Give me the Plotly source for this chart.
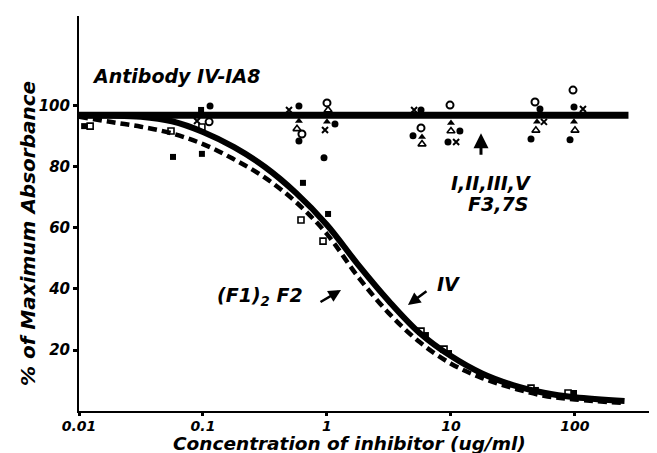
import plotly.graph_objects as go

# ---------------- data ----------------
x_tick_vals = [0.01, 0.1, 1, 10, 100]
x_tick_text = ["0.01", "0.1", "1", "10", "100"]
y_tick_vals = [20, 40, 60, 80, 100]
y_tick_text = ["20", "40", "60", "80", "100"]

# Horizontal line for I, II, III, V, F3, 7S (no inhibition)
flat_x = [0.01, 270]
flat_y = [97, 97]

# Curve for IV (solid)
iv_x = [0.01, 0.0316, 0.0562, 0.1, 0.178, 0.316, 0.562, 1.0, 1.78, 3.16, 5.62, 10, 17.8, 31.6, 56.2, 100, 251]
iv_y = [97, 96.5, 95, 91.5, 86.5, 80, 71.5, 61, 48, 36, 25.5, 18, 12.3, 8.5, 6, 4.5, 3.3]

# Curve for (F1)2 F2 (dashed)
f_x = [0.01, 0.0178, 0.0316, 0.0562, 0.1, 0.178, 0.316, 0.562, 1.0, 1.78, 3.16, 5.62, 10, 17.8, 31.6, 56.2, 100, 251]
f_y = [96.5, 94.8, 93.2, 91, 87.5, 82.5, 76.5, 68.5, 58, 44, 32, 22.5, 15.5, 10.8, 7.5, 5, 3.8, 2.6]

# Scatter points
fc_x = [0.114, 0.594, 0.594, 1.16, 0.946, 5.73, 4.94, 11.8, 9.46, 52.2, 44.2, 98.2, 91.2]
fc_y = [100, 100, 88.5, 94.1, 83, 98.7, 90.2, 91.8, 88.2, 99, 89.2, 99.7, 88.9]

oc_x = [0.112, 0.628, 1.0, 5.73, 9.82, 47.6, 96.4]
oc_y = [94.8, 90.8, 101, 92.8, 100.3, 101.3, 105.2]

ft_x = [0.594, 1.0, 5.84, 10, 49.4, 98.2]
ft_y = [95.1, 94.8, 89.8, 94.4, 94.8, 94.8]

ot_x = [0.573, 1.02, 5.84, 10, 48.4, 100]
ot_y = [92.5, 98.7, 87.5, 91.8, 92, 92]

xm_x = [0.0895, 0.494, 0.964, 5.04, 11, 56.2, 116]
xm_y = [95.1, 98.7, 92.1, 98.7, 88.2, 94.8, 99]

fs_x = [0.011, 0.0573, 0.098, 0.0965, 0.64, 1.02, 6.28, 9.64, 48.4, 98.2]
fs_y = [93.4, 83.3, 84.3, 98.7, 74.8, 64.6, 24.9, 19, 6.9, 5.9]

os_x = [0.0123, 0.0552, 0.098, 0.617, 0.929, 5.73, 8.79, 44.2, 87.9]
os_y = [93.4, 91.8, 93.1, 62.6, 55.7, 26.2, 20.3, 7.5, 5.9]

# ---------------- figure ----------------
FONT = "DejaVu Sans"
fig = go.Figure()

fig.add_trace(go.Scatter(x=flat_x, y=flat_y, mode="lines",
                         line=dict(color="black", width=7), showlegend=False))
fig.add_trace(go.Scatter(x=f_x, y=f_y, mode="lines",
                         line=dict(color="black", width=4.5, dash="9px,5px", shape="spline", smoothing=1),
                         showlegend=False))
fig.add_trace(go.Scatter(x=iv_x, y=iv_y, mode="lines",
                         line=dict(color="black", width=6, shape="spline", smoothing=1),
                         showlegend=False))

def pts(x, y, symbol, size=7, lw=1.5):
    fig.add_trace(go.Scatter(x=x, y=y, mode="markers", showlegend=False,
                             marker=dict(symbol=symbol, size=size, color="black",
                                         line=dict(color="black", width=lw))))

pts(fc_x, fc_y, "circle", 7, 0)
pts(oc_x, oc_y, "circle-open", 7, 2)
pts(ft_x, ft_y, "triangle-up", 7, 0)
pts(ot_x, ot_y, "triangle-up-open", 7, 1.6)
pts(xm_x, xm_y, "x-thin-open", 6, 2)
pts(fs_x, fs_y, "square", 6, 0)
pts(os_x, os_y, "square-open", 6, 1.6)

tickfont = dict(family=FONT, size=14, color="black", weight="bold", style="italic")
fig.update_layout(
    width=657, height=453,
    margin=dict(l=71, r=0, t=8, b=50),
    paper_bgcolor="white", plot_bgcolor="white",
    xaxis=dict(type="log", range=[-2, 2.726], tickvals=x_tick_vals, ticktext=x_tick_text,
               showgrid=False, zeroline=False, showline=True, linecolor="black", linewidth=2,
               ticks="outside", ticklen=3, tickwidth=3, tickcolor="black",
               ticklabelstandoff=-2, tickfont=tickfont),
    yaxis=dict(range=[0, 129.5], tickvals=y_tick_vals, ticktext=y_tick_text,
               showgrid=False, zeroline=False, showline=True, linecolor="black", linewidth=2,
               ticks="outside", ticklen=4, tickwidth=3, tickcolor="black",
               tickfont=dict(family=FONT, size=15, color="black", weight="bold", style="italic")),
)

def txt(x, y, s, size=19, xanchor="center", angle=0, xref="x", yref="y"):
    fig.add_annotation(x=x, y=y, xref=xref, yref=yref, text="<b><i>" + s + "</i></b>",
                       showarrow=False, xanchor=xanchor, yanchor="middle", textangle=angle,
                       borderpad=0, font=dict(family=FONT, size=size, color="black"))

# axis titles
txt(-0.087, 0.448, "% of Maximum Absorbance", 20, angle=-90, xref="paper", yref="paper")
txt(0.461, -0.0825, "Concentration of inhibitor (ug/ml)", 18.5, xref="paper", yref="paper")

# labels
txt(-1.903, 109.8, "Antibody IV-IA8", 19, xanchor="left")
txt(1.32, 74.8, "I,II,III,V", 19)
txt(1.38, 67.8, "F3,7S", 19)
txt(0.976, 41.6, "IV", 19)
txt(-0.54, 37.4, "(F1)<sub>2</sub> F2", 19)

# arrows
def arrow(x, y, ax, ay, w=2.5):
    fig.add_annotation(x=x, y=y, xref="x", yref="y", ax=ax, ay=ay, axref="pixel", ayref="pixel",
                       text="", showarrow=True, arrowhead=2, arrowsize=1, arrowwidth=w,
                       arrowcolor="black")

arrow(0.653, 34.75, 20, -15)
arrow(0.113, 39.7, -22, 13)
arrow(1.242, 91.1, 0, 23, 3)

fig.write_html("out.html")
